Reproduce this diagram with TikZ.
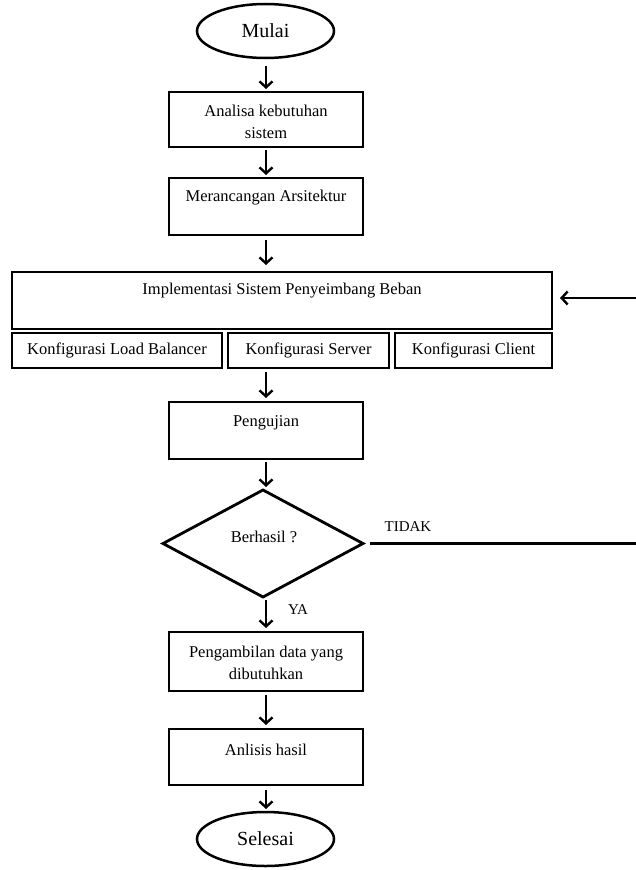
\documentclass[tikz,border=0pt]{standalone}
\usepackage{fontspec}
\setmainfont{Liberation Serif}
\usetikzlibrary{arrows.meta,shapes.geometric}
\begin{document}
\begin{tikzpicture}[x=1pt,y=-1pt,
  box/.style={draw,line width=2.8pt,inner sep=0pt,outer sep=0pt},
  term/.style={draw,ellipse,line width=2.5pt,inner sep=0pt,outer sep=0pt,minimum width=137pt,minimum height=54pt,font=\fontsize{20}{24}\selectfont},
  txt/.style={inner sep=0pt,align=center,font=\fontsize{16.5}{22}\selectfont},
  small/.style={inner sep=0pt,font=\fontsize{15}{18}\selectfont},
  flow/.style={line width=2.4pt,-{Straight Barb[length=6pt,width=13pt]}},
  plain/.style={line width=2.4pt}]
\useasboundingbox (0,0) rectangle (636,870);
% terminals
\node[term] (mulai) at (265.5,31) {Mulai};
\node[term] (selesai) at (265.5,839) {Selesai};
% boxes
\node[box,minimum width=194pt,minimum height=55pt] (b1) at (266,119.5) {};
\node[txt] (b1t) at (266,122) {Analisa kebutuhan\\sistem};
\node[box,minimum width=194pt,minimum height=57pt] (b2) at (266,206.5) {};
\node[txt] (b2t) at (266,198) {Merancangan Arsitektur};
\node[box,minimum width=540pt,minimum height=57pt] (b3) at (282,300.5) {};
\node[txt] (b3t) at (282,291) {Implementasi Sistem Penyeimbang Beban};
\node[box,minimum width=210pt,minimum height=35pt,font=\fontsize{16.5}{22}\selectfont] (k1) at (117,350.5) {Konfigurasi Load Balancer};
\node[box,minimum width=161pt,minimum height=35pt,font=\fontsize{16.5}{22}\selectfont] (k2) at (308.5,350.5) {Konfigurasi Server};
\node[box,minimum width=157pt,minimum height=35pt,font=\fontsize{16.5}{22}\selectfont] (k3) at (473.5,350.5) {Konfigurasi Client};
\node[box,minimum width=194pt,minimum height=57pt] (b4) at (266,430.5) {};
\node[txt] (b4t) at (266,423) {Pengujian};
\node[box,diamond,minimum width=200pt,minimum height=107pt] (dia) at (263,543.5) {};
\node[txt] (diat) at (264,537) {Berhasil ?};
\node[box,minimum width=194pt,minimum height=59pt] (b5) at (266,661.5) {};
\node[txt] (b5t) at (266,663) {Pengambilan data yang\\dibutuhkan};
\node[box,minimum width=194pt,minimum height=56pt] (b6) at (266,757) {};
\node[txt] (b6t) at (266,750) {Anlisis hasil};
% labels
\node[small] (tidak) at (408,527) {TIDAK};
\node[small] (ya) at (298,610) {YA};
% connectors
\draw[flow,shorten <=8pt,shorten >=3pt] (mulai.south -| b1.north) -- (b1.north);
\draw[flow,shorten <=3pt,shorten >=3pt] (b1.south) -- (b2.north);
\draw[flow,shorten <=5pt,shorten >=7pt] (b2.south) -- (b2.south |- b3.north);
\draw[flow,shorten <=4pt,shorten >=4pt] (b4.north |- k2.south) -- (b4.north);
\draw[flow,shorten <=3pt,shorten >=3pt] (b4.south) -- (b4.south |- dia.north);
\draw[flow,shorten <=3pt,shorten >=4pt] (b5.north |- dia.south) -- (b5.north);
\draw[flow,shorten <=4pt,shorten >=4pt] (b5.south) -- (b6.north);
\draw[flow,shorten <=5pt,shorten >=3pt] (b6.south) -- (b6.south |- selesai.north);
\coordinate (tEnd) at (636,543.5);
\coordinate (fStart) at (636,298);
\draw[plain,shorten <=7pt] (dia.east) -- (tEnd);
\draw[flow,shorten >=8pt] (fStart) -- (fStart -| b3.east);
\end{tikzpicture}
\end{document}
